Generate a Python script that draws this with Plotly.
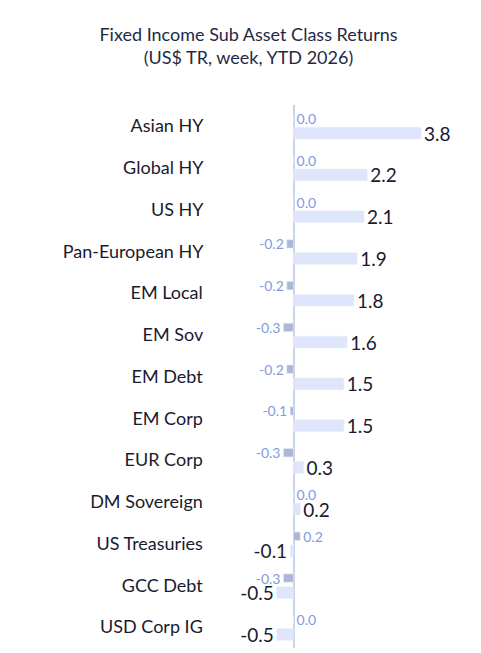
import plotly.graph_objects as go

categories = ["Asian HY", "Global HY", "US HY", "Pan-European HY", "EM Local", "EM Sov",
              "EM Debt", "EM Corp", "EUR Corp", "DM Sovereign", "US Treasuries",
              "GCC Debt", "USD Corp IG"]
week = [0.0, 0.0, 0.0, -0.2, -0.2, -0.3, -0.2, -0.1, -0.3, 0.0, 0.2, -0.3, 0.0]
ytd = [3.8, 2.2, 2.1, 1.9, 1.8, 1.6, 1.5, 1.5, 0.3, 0.2, -0.1, -0.5, -0.5]

fig = go.Figure()
fig.add_trace(go.Bar(
    y=categories, x=week, orientation="h", name="Week",
    marker_color="#aeb8d6", width=0.2,
    text=[f"{v:.1f}" for v in week], textposition="outside", cliponaxis=False,
    constraintext="none",
    textfont=dict(color="#7f9be0", size=14, family="Lato"),
))
fig.add_trace(go.Bar(
    y=categories, x=ytd, orientation="h", name="YTD",
    marker_color="#dfe6fb", width=0.28,
    text=[f"{v:.1f}" for v in ytd], textposition="outside", cliponaxis=False,
    constraintext="none",
    textfont=dict(color="#1a1a2e", size=19, family="Lato"),
))

fig.update_layout(
    width=481, height=653,
    barmode="group", bargap=0.3, bargroupgap=0.1,
    title=dict(text="Fixed Income Sub Asset Class Returns<br>(US$ TR, week, YTD 2026)",
               x=0.5, xanchor="center", y=0.95, yanchor="top",
               font=dict(size=18, color="#1f2a44", family="Lato")),
    margin=dict(l=205, r=11, t=97, b=13),
    plot_bgcolor="white", paper_bgcolor="white",
    showlegend=False,
    font=dict(family="Lato", size=18, color="#1a1a2e"),
)
fig.update_xaxes(range=[-2.4, 5.5], showgrid=False, showticklabels=False,
                 zeroline=True, zerolinecolor="#c8d3ee", zerolinewidth=2)
fig.update_yaxes(autorange="reversed", showgrid=False, ticks="", ticksuffix="  ",
                 tickfont=dict(size=18, color="#1a1a2e"))

fig.write_html("out.html")
